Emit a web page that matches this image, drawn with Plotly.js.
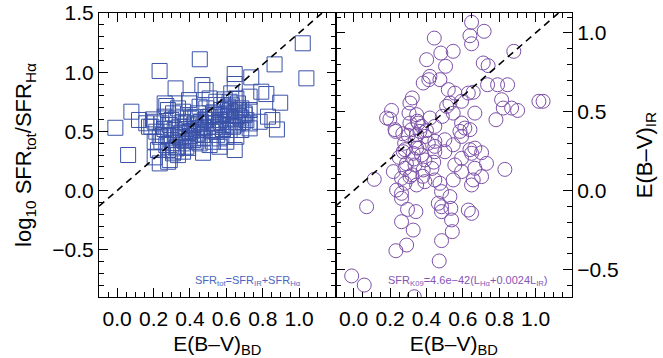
<!DOCTYPE html>
<html>
<head>
<meta charset="utf-8">
<script src="https://cdn.plot.ly/plotly-3.0.1.min.js"></script>
<style>html,body{margin:0;padding:0;background:#fff;}#chart{width:663px;height:358px;}</style>
</head>
<body>
<div id="chart"></div>
<script>
// Left panel: E(B-V)_BD vs log10 SFR_tot/SFR_Halpha (squares)
const ebvBD_left = [
 -0.01, 0.06, 0.078, 0.12, 0.16, 0.175, 0.206, 0.233, 0.454, 1.02, 1.04, 0.865, 0.28,
 0.321, 0.468, 0.486, 0.646, 0.646, 0.737, 0.792, 0.820, 0.896, 0.829, 0.853, 0.878, 0.783, 0.728, 0.728,
 0.646, 0.472, 0.234, 0.206, 0.224, 0.243, 0.261, 0.270, 0.395, 0.197, 0.188, 0.215, 0.261, 0.279,
 0.334, 0.362, 0.325, 0.289, 0.316, 0.343, 0.298, 0.270, 0.325, 0.334, 0.307, 0.380, 0.417, 0.453,
 0.508, 0.563, 0.472, 0.398, 0.426, 0.481, 0.536, 0.572, 0.609, 0.664, 0.627, 0.664, 0.682, 0.618,
 0.581, 0.536, 0.499, 0.435, 0.380, 0.362, 0.444, 0.490, 0.545, 0.508, 0.591, 0.627, 0.701, 0.710,
 0.655, 0.600, 0.545, 0.398, 0.362, 0.252, 0.243, 0.407, 0.508, 0.563, 0.600, 0.646, 0.682, 0.682,
 0.728, 0.728, 0.636, 0.472, 0.343, 0.298, 0.234, 0.279, 0.362, 0.435, 0.526, 0.563, 0.600, 0.453,
 0.352, 0.307, 0.398, 0.453, 0.572, 0.673, 0.526, 0.581, 0.618, 0.655, 0.206, 0.289,
 0.30, 0.32, 0.35, 0.38, 0.40, 0.42, 0.44, 0.46, 0.48, 0.50, 0.52, 0.54, 0.56, 0.58, 0.60, 0.62,
 0.64, 0.66, 0.33, 0.37, 0.41, 0.45, 0.49, 0.53, 0.57, 0.61, 0.65, 0.69, 0.28, 0.26, 0.31, 0.39,
 0.47, 0.55, 0.59, 0.63, 0.67, 0.70, 0.36, 0.43
];
const logRatio = [
 0.53, 0.30, 0.666, 0.596, 0.568, 0.539, 0.581, 1.01, 1.109, 1.244, 0.948, 1.066, 0.243,
 0.863, 0.891, 0.849, 0.984, 0.900, 0.956, 0.835, 0.815, 0.742, 0.624, 0.595, 0.516, 0.581, 0.680, 0.793,
 0.342, 0.319, 0.229, 0.280, 0.342, 0.412, 0.736, 0.714, 0.764, 0.601, 0.539, 0.497, 0.624, 0.680,
 0.694, 0.666, 0.609, 0.553, 0.511, 0.454, 0.426, 0.384, 0.356, 0.299, 0.314, 0.370, 0.426, 0.398,
 0.384, 0.440, 0.469, 0.497, 0.567, 0.595, 0.638, 0.680, 0.708, 0.736, 0.609, 0.567, 0.511, 0.511,
 0.553, 0.539, 0.511, 0.525, 0.567, 0.624, 0.652, 0.694, 0.750, 0.778, 0.770, 0.821, 0.652, 0.595,
 0.454, 0.454, 0.497, 0.440, 0.398, 0.469, 0.567, 0.609, 0.624, 0.595, 0.652, 0.666, 0.694, 0.609,
 0.567, 0.525, 0.539, 0.539, 0.539, 0.595, 0.454, 0.342, 0.328, 0.412, 0.412, 0.370, 0.412, 0.511,
 0.483, 0.652, 0.736, 0.708, 0.722, 0.624, 0.567, 0.511, 0.750, 0.778, 0.412, 0.257,
 0.40, 0.47, 0.44, 0.52, 0.46, 0.55, 0.48, 0.58, 0.53, 0.62, 0.50, 0.57, 0.64, 0.52, 0.60, 0.67,
 0.55, 0.63, 0.37, 0.42, 0.50, 0.56, 0.60, 0.66, 0.58, 0.63, 0.60, 0.58, 0.46, 0.52, 0.33, 0.36,
 0.44, 0.47, 0.69, 0.72, 0.68, 0.64, 0.58, 0.62
];

// Right panel: E(B-V)_BD vs E(B-V)_IR (circles)
const ebvBD_right = [
 0.648, 0.717, 0.639, 0.648, 0.443, 0.479, 0.547, 0.401, 0.505, 0.712, 0.739, 0.880, 0.419, 0.382,
 0.413, 0.474, 0.520, 0.556, 0.630, 0.657, 0.736, 0.791, 0.846, 0.322, 0.309, 0.529, 0.511, 0.593,
 0.813, 0.822, 0.868, 0.901, 1.018, 1.041, 0.304, 0.346, 0.208, 0.181, 0.199, 0.227, 0.230, 0.318,
 0.355, 0.373, 0.419, 0.446, 0.487, 0.547, 0.666, 0.782, 0.593, 0.611, 0.639, 0.584, 0.346, 0.364,
 0.391, 0.446, 0.501, 0.337, 0.282, 0.346, 0.446, 0.639, 0.666, 0.547, 0.593, 0.309,
 0.272, 0.327, 0.373, 0.391, 0.446, 0.501, 0.593, 0.648, 0.703, 0.730, 0.831, 0.556, 0.593, 0.666,
 0.703, 0.648, 0.657, 0.218, 0.282, 0.337, 0.382, 0.309, 0.263, 0.282, 0.346, 0.391, 0.446, 0.474,
 0.547, 0.113, 0.236, 0.263, 0.263, 0.483, 0.529, 0.465, 0.483, 0.534, 0.483, 0.630, 0.648, 0.071,
 0.296, 0.342, 0.538, 0.263, 0.327, 0.542, 0.483, 0.291, 0.232, 0.470, -0.011, 0.058, 0.333,
 0.28, 0.30, 0.33, 0.36, 0.40, 0.43, 0.25, 0.38, 0.41, 0.35, 0.32, 0.29, 0.44, 0.27
];
const ebvIR = [
 1.067, 1.010, 0.982, 0.931, 0.967, 0.872, 0.883, 0.830, 0.788, 0.809, 0.792, 0.883, 0.724, 0.682,
 0.703, 0.703, 0.640, 0.618, 0.618, 0.623, 0.671, 0.671, 0.671, 0.587, 0.555, 0.555, 0.534, 0.566,
 0.576, 0.523, 0.523, 0.508, 0.566, 0.566, 0.491, 0.481, 0.508, 0.460, 0.453, 0.386, 0.375, 0.386,
 0.428, 0.407, 0.460, 0.407, 0.470, 0.491, 0.491, 0.449, 0.428, 0.396, 0.386, 0.375, 0.354, 0.375,
 0.343, 0.312, 0.322, 0.312, 0.259, 0.269, 0.280, 0.259, 0.269, 0.290, 0.343, 0.428,
 0.246, 0.236, 0.225, 0.194, 0.246, 0.246, 0.204, 0.236, 0.240, 0.172, 0.134, 0.162, 0.120, 0.141,
 0.088, 0.035, 0.067, 0.120, 0.141, 0.162, 0.130, 0.088, 0.077, 0.046, 0.035, 0.056, 0.067, 0.046,
 0.067, 0.071, 0.003, -0.018, -0.050, -0.007, -0.039, -0.081, -0.103, -0.113, -0.134, -0.124, -0.145, -0.103,
 -0.120, -0.134, -0.187, -0.198, -0.251, -0.261, -0.318, -0.346, -0.382, -0.447, -0.542, -0.600, -0.674,
 0.30, 0.35, 0.20, 0.27, 0.38, 0.14, 0.21, 0.09, 0.30, 0.44, 0.10, 0.17, 0.18, 0.36
];

// Reference relation: log ratio = 0.4 k(Halpha) E(B-V), k = 3.33
const kHa04 = 0.4 * 3.33;
const lineX = [-0.1, 1.5 / kHa04];

const xTickVals = [0, 0.2, 0.4, 0.6, 0.8, 1.0];
const leftYTicks = [-0.5, 0, 0.5, 1.0, 1.5];
const rightYTicks = [-0.5, 0, 0.5, 1.0];

const FONT = 'Liberation Sans, Arial, Helvetica, sans-serif';
const blue = '#3a52a8';
const purple = '#7c4fa8';

const traces = [
  {x: ebvBD_left, y: logRatio, xaxis: 'x', yaxis: 'y', type: 'scatter', mode: 'markers',
   marker: {symbol: 'square-open', size: 15, color: blue, line: {width: 1, color: blue}}, hoverinfo: 'skip'},
  {x: lineX, y: lineX.map(v => v * kHa04), xaxis: 'x', yaxis: 'y', type: 'scatter', mode: 'lines',
   line: {color: 'black', width: 1.6, dash: '7px,5px'}, hoverinfo: 'skip'},
  {x: ebvBD_right, y: ebvIR, xaxis: 'x2', yaxis: 'y2', type: 'scatter', mode: 'markers',
   marker: {symbol: 'circle-open', size: 14, color: purple, line: {width: 1, color: purple}}, hoverinfo: 'skip'},
  {x: lineX, y: lineX, xaxis: 'x2', yaxis: 'y2', type: 'scatter', mode: 'lines',
   line: {color: 'black', width: 1.6, dash: '7px,5px'}, hoverinfo: 'skip'}
];

const axBase = {
  showline: true, linecolor: 'black', linewidth: 1, mirror: 'ticks',
  ticks: 'inside', ticklen: 9, tickwidth: 1, tickcolor: 'black',
  showgrid: false, zeroline: false, tickformat: '.1f',
  tickfont: {family: FONT, size: 21, color: 'black'}
};

const layout = {
  width: 663, height: 358,
  margin: {l: 99, r: 91, t: 13, b: 61},
  paper_bgcolor: 'white', plot_bgcolor: 'white',
  showlegend: false,
  font: {family: FONT, color: 'black'},
  xaxis: Object.assign({}, axBase, {
    domain: [0, 0.5], range: [-0.1, 1.2], anchor: 'y',
    tickmode: 'array', tickvals: xTickVals, ticklabelstandoff: 3,
    minor: {dtick: 0.05, tick0: 0, ticks: 'inside', ticklen: 5, tickcolor: 'black'},
    title: {text: 'E(B–V)<sub>BD</sub>', font: {family: FONT, size: 21}, standoff: 8}
  }),
  yaxis: Object.assign({}, axBase, {
    domain: [0, 1], range: [-0.9, 1.5], anchor: 'x',
    tickmode: 'array', tickvals: leftYTicks,
    minor: {dtick: 0.1, tick0: 0, ticks: 'inside', ticklen: 5, tickcolor: 'black'},
    title: {text: 'log<sub>10</sub> SFR<sub>tot</sub>/SFR<sub>Hα</sub>', font: {family: FONT, size: 22}, standoff: 14}
  }),
  xaxis2: Object.assign({}, axBase, {
    domain: [0.5, 1], range: [-0.1, 1.2], anchor: 'y2',
    tickmode: 'array', tickvals: xTickVals, ticklabelstandoff: 3,
    minor: {dtick: 0.05, tick0: 0, ticks: 'inside', ticklen: 5, tickcolor: 'black'},
    title: {text: 'E(B–V)<sub>BD</sub>', font: {family: FONT, size: 21}, standoff: 8}
  }),
  yaxis2: Object.assign({}, axBase, {
    domain: [0, 1], range: [-0.9 / kHa04, 1.5 / kHa04], anchor: 'x2', side: 'right',
    tickmode: 'array', tickvals: rightYTicks,
    minor: {dtick: 0.1, tick0: 0, ticks: 'inside', ticklen: 5, tickcolor: 'black'},
    title: {text: 'E(B–V)<sub>IR</sub>', font: {family: FONT, size: 22}, standoff: 18}
  }),
  annotations: [
    {xref: 'x', yref: 'y', x: 0.717, y: -0.765, showarrow: false,
     text: 'SFR<sub>tot</sub>=SFR<sub>IR</sub>+SFR<sub>Hα</sub>',
     font: {family: FONT, size: 11, color: '#4a66c0'}},
    {xref: 'x2', yref: 'y2', x: 0.628, y: -0.575, showarrow: false,
     text: 'SFR<sub>K09</sub>=4.6e−42(L<sub>Hα</sub>+0.0024L<sub>IR</sub>)',
     font: {family: FONT, size: 11, color: '#8455b4'}}
  ]
};

Plotly.newPlot('chart', traces, layout, {displayModeBar: false, staticPlot: true});
</script>
</body>
</html>
